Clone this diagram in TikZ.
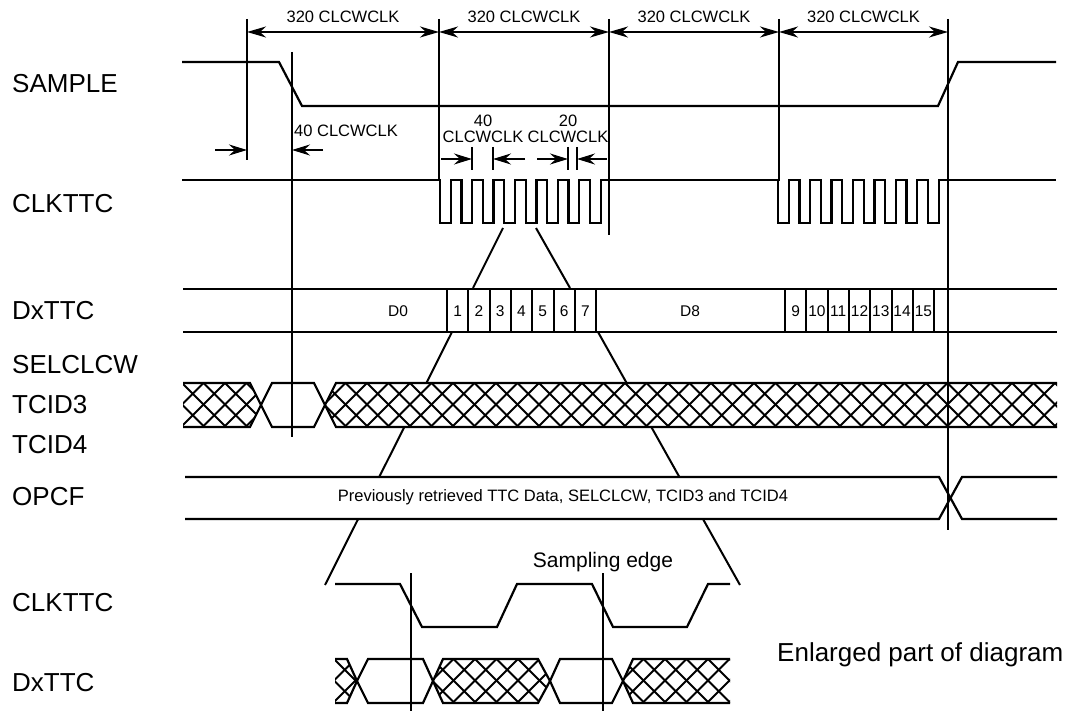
\documentclass[tikz,border=0pt]{standalone}
\usepackage{fontspec}
\setmainfont{Liberation Sans}
\usetikzlibrary{arrows.meta}

\tikzset{
  sig/.style={line width=2.2pt},
  refl/.style={line width=2pt},
  hatchln/.style={line width=1.9pt},
  dimarr/.style={line width=2pt, {Stealth[length=19pt,width=11pt,inset=6pt]}-{Stealth[length=19pt,width=11pt,inset=6pt]}},
  onearr/.style={line width=2pt, -{Stealth[length=18pt,width=11pt,inset=6pt]}},
  lbl/.style={anchor=west, inner sep=0pt, font=\fontsize{26}{28}\selectfont},
  dimlbl/.style={inner sep=0pt, font=\fontsize{16.5}{17}\selectfont},
  cell/.style={inner sep=0pt, font=\fontsize{15.5}{16}\selectfont},
}

% cross hatched band piece: clip path, top y, x from, x to
\newcommand{\hatchband}[4]{%
  \begin{scope}
    \clip #1;
    \fill[white] (#3,#2) rectangle (#4,#2+44);
    \pgfmathtruncatemacro{\nk}{(#4-#3+88)/21.5+1}
    \foreach \k in {0,...,\nk}{
      \draw[hatchln] ({#3-44+\k*21.5},#2) -- ++(44,44);
      \draw[hatchln] ({#3-44+\k*21.5},#2) -- ++(-44,44);
    }
  \end{scope}}

\begin{document}
\begin{tikzpicture}[x=1pt,y=-1pt]
\useasboundingbox (0,0) rectangle (1077,711);

% signal names
\node[lbl] (nsample) at (12,84) {SAMPLE};
\node[lbl] (nclk) at (12,204) {CLKTTC};
\node[lbl] (ndx) at (12,311) {DxTTC};
\node[lbl] (nsel) at (12,365) {SELCLCW};
\node[lbl] (ntc3) at (12,405) {TCID3};
\node[lbl] (ntc4) at (12,445) {TCID4};
\node[lbl] (nopcf) at (12,497) {OPCF};
\node[lbl] (nclkz) at (12,603) {CLKTTC};
\node[lbl] (ndxz) at (12,683) {DxTTC};

% zoom funnels (bands cover them)
\draw[refl] (503,228) -- (473,288);
\draw[refl] (536,228) -- (570,288);
\draw[refl] (452,332) -- (325,585);
\draw[refl] (598,332) -- (740,585);

% SAMPLE
\draw[sig] (182,62) -- (279,62) -- (302,106) -- (938,106) -- (958,62) -- (1056,62);

% CLKTTC
\draw[sig] (182,180)
  foreach \k in {0,...,7}{ -- ({440+\k*21.43},180) -- ++(0,43) -- ++(10.7,0) -- ++(0,-43)}
  -- (778,180)
  foreach \k in {0,...,7}{ -- ({778+\k*21.43},180) -- ++(0,43) -- ++(10.7,0) -- ++(0,-43)}
  -- (1056,180);

% DxTTC
\draw[sig] (183,289) -- (1057,289) (183,332) -- (1057,332);
\foreach \k in {0,...,7}{
  \draw[refl] ({447+\k*21.3},289) -- ++(0,43);
  \draw[refl] ({785+\k*21.3},289) -- ++(0,43);
}
\node[cell] (d0) at (398,311) {D0};
\node[cell] (d8) at (690,311) {D8};
\foreach \n [count=\i from 0] in {1,...,7}
  \node[cell] (c\n) at ({457.6+\i*21.3},311) {\n};
\foreach \n [count=\i from 0] in {9,...,15}
  \node[cell] (c\n) at ({795.6+\i*21.3},311) {\n};

% SELCLCW / TCID3 / TCID4
\hatchband{(183,383) -- (250,383) -- (261,405) -- (250,427) -- (183,427) -- cycle}{383}{183}{262}
\hatchband{(325,405) -- (336,383) -- (1057,383) -- (1057,427) -- (336,427) -- cycle}{383}{325}{1057}
\draw[sig] (183,383) -- (250,383) -- (261,405) -- (250,427) -- (183,427);
\draw[sig] (261,405) -- (272,383) -- (314,383) -- (325,405) -- (314,427) -- (272,427) -- cycle;
\draw[sig] (1057,383) -- (336,383) -- (325,405) -- (336,427) -- (1057,427);

% OPCF
\fill[white] (185,477) rectangle (1057,519);
\draw[sig] (185,477) -- (939,477) -- (962,519) -- (1057,519);
\draw[sig] (185,519) -- (939,519) -- (962,477) -- (1057,477);
\node[inner sep=0pt, font=\fontsize{16.5}{17}\selectfont] (prev) at (563,497)
  {Previously retrieved TTC Data, SELCLCW, TCID3 and TCID4};

% reference lines
\coordinate (ta) at (247,32);
\coordinate (tc) at (439,32);
\coordinate (td) at (609,32);
\coordinate (te) at (779,32);
\coordinate (tf) at (948,32);
\draw[refl] (247,19) -- (247,160);
\draw[refl] (292,52) -- (292,437);
\draw[refl] (439,19) -- (439,181);
\draw[refl] (609,19) -- (609,235);
\draw[refl] (779,19) -- (779,181);
\draw[refl] (948,19) -- (948,530);

% periods
\draw[dimarr] (ta) -- (tc) node[midway, above=8pt, dimlbl] (p1) {320 CLCWCLK};
\draw[dimarr] (tc) -- (td) node[midway, above=8pt, dimlbl] (p2) {320 CLCWCLK};
\draw[dimarr] (td) -- (te) node[midway, above=8pt, dimlbl] (p3) {320 CLCWCLK};
\draw[dimarr] (te) -- (tf) node[midway, above=8pt, dimlbl] (p4) {320 CLCWCLK};

% 40 CLCWCLK delay
\node[dimlbl, anchor=west] (dl) at (294,131) {40 CLCWCLK};
\draw[onearr] (215,150) -- (247,150);
\draw[onearr] (323,150) -- (292,150);

% clock period and pulse width
\node[dimlbl, align=center] (w40) at (483,129) {40\\[-1pt]CLCWCLK};
\node[dimlbl, align=center] (w20) at (568,129) {20\\[-1pt]CLCWCLK};
\foreach \x in {472,493,568,577} \draw[refl] (\x,147) -- (\x,170);
\draw[onearr] (441,159) -- (472,159);
\draw[onearr] (525,159) -- (493,159);
\draw[onearr] (537,159) -- (568,159);
\draw[onearr] (607,159) -- (577,159);

% enlarged part
\draw[sig] (335,584) -- (400,584) -- (422,627) -- (497,627) -- (517,584) -- (592,584)
  -- (613,627) -- (687,627) -- (708,584) -- (730,584);
\hatchband{(335,659) -- (347,659) -- (357,681) -- (347,703) -- (335,703) -- cycle}{659}{335}{357}
\draw[sig] (335,659) -- (347,659) -- (357,681) -- (347,703) -- (335,703);
\draw[sig] (357,681) -- (368,659) -- (423,659) -- (433,681) -- (423,703) -- (368,703) -- cycle;
\hatchband{(433,681) -- (443,659) -- (538,659) -- (550,681) -- (538,703) -- (443,703) -- cycle}{659}{433}{550}
\draw[sig] (433,681) -- (443,659) -- (538,659) -- (550,681) -- (538,703) -- (443,703) -- cycle;
\draw[sig] (550,681) -- (560,659) -- (612,659) -- (623,681) -- (612,703) -- (560,703) -- cycle;
\hatchband{(623,681) -- (633,659) -- (730,659) -- (730,703) -- (633,703) -- cycle}{659}{623}{730}
\draw[sig] (730,659) -- (633,659) -- (623,681) -- (633,703) -- (730,703);
\draw[refl] (411,573) -- (411,711);
\draw[refl] (603,573) -- (603,711);
\node[inner sep=0pt, anchor=base, font=\fontsize{21}{22}\selectfont] (samp) at (603,567) {Sampling edge};
\node[lbl] (enl) at (777,655) {Enlarged part of diagram};

\end{tikzpicture}
\end{document}
